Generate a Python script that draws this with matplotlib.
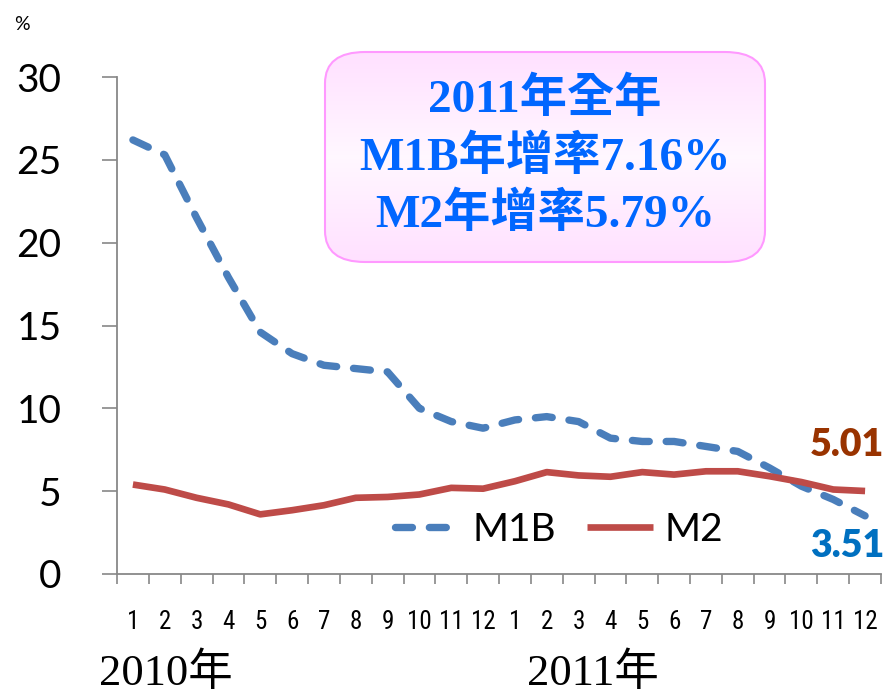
import matplotlib
matplotlib.use("Agg")
import matplotlib.pyplot as plt
import numpy as np
from matplotlib.patches import FancyBboxPatch
from matplotlib import font_manager

months = [str(m) for m in range(1, 13)] * 2
years = ["2010年", "2011年"]
m1b = [26.2, 25.3, 21.5, 17.9, 14.6, 13.3, 12.6, 12.4, 12.2, 10.0, 9.2, 8.8,
       9.3, 9.5, 9.2, 8.2, 8.0, 8.0, 7.7, 7.4, 6.4, 5.3, 4.5, 3.51]
m2 = [5.4, 5.1, 4.6, 4.2, 3.6, 3.85, 4.15, 4.6, 4.65, 4.8, 5.2, 5.15,
      5.6, 6.15, 5.95, 5.87, 6.15, 6.0, 6.2, 6.2, 5.9, 5.55, 5.1, 5.01]
yticks = [0, 5, 10, 15, 20, 25, 30]
box_lines = ["2011年全年", "M1B年增率7.16%", "M2年增率5.79%"]

def pick_font(cands, default):
    for c in cands:
        try:
            p = font_manager.findfont(
                font_manager.FontProperties(family=c, weight="normal"),
                fallback_to_default=False)
            if "bold" not in p.lower():
                return c
        except Exception:
            pass
    return default

narrow = pick_font(["Liberation Sans Narrow", "Roboto Condensed"], "Lato")
xfs = 18 if narrow != "Lato" else 16.5

W, H = 889, 693
fig = plt.figure(figsize=(W / 100, H / 100), dpi=100)
ax = fig.add_axes([117 / W, 1 - 574 / H, (881 - 117) / W, (574 - 77) / H])

x = np.arange(len(m1b))
ax.plot(x, m1b, color="#4A7EBB", lw=5.3, linestyle=(0, (2.3, 2.3)),
        dash_capstyle="round", solid_joinstyle="round", label="M1B")
ax.plot(x, m2, color="#BE4B48", lw=4.8, solid_capstyle="butt",
        solid_joinstyle="round", label="M2")

ax.set_xlim(-0.5, len(m1b) - 0.5)
ax.set_ylim(0, 30)
ax.set_yticks(yticks)
ax.set_yticklabels([str(v) for v in yticks], fontsize=28, family="Lato")
ax.tick_params(axis="y", length=11, width=1.2, color="#888888", pad=29)

ax.set_xticks(x)
ax.set_xticklabels(months, fontsize=xfs, family=narrow, fontweight="normal")
ax.set_xticks(np.arange(-0.5, len(m1b)), minor=True)
ax.tick_params(axis="x", which="major", length=0, pad=26)
ax.tick_params(axis="x", which="minor", length=7, width=1.2, color="#888888")

for s in ["top", "right"]:
    ax.spines[s].set_visible(False)
for s in ["left", "bottom"]:
    ax.spines[s].set_color("#888888")
    ax.spines[s].set_linewidth(1.3)

leg = ax.legend(loc="center", bbox_to_anchor=(559 / W, 1 - 530 / H),
                bbox_transform=fig.transFigure, ncol=2, frameon=False,
                prop={"family": "Lato", "size": 28}, handlelength=1.7,
                columnspacing=0.8, handletextpad=0.3)

# end labels
ax.annotate("5.01", xy=(x[-1], m2[-1]), xytext=(847 / W, 1 - 445 / H),
            textcoords="figure fraction", ha="center", va="center",
            fontsize=27, fontweight="heavy", color="#993300", family="Lato")
ax.annotate("3.51", xy=(x[-1], m1b[-1]), xytext=(847 / W, 1 - 546 / H),
            textcoords="figure fraction", ha="center", va="center",
            fontsize=27, fontweight="heavy", color="#0070C0", family="Lato")

# percent label
fig.text(22 / W, 1 - 25 / H, "%", fontsize=14, ha="center", va="center",
         family="Lato")

# year labels
for xc, lab in zip([166, 593], years):
    fig.text(xc / W, 1 - 673 / H, lab, fontsize=32, ha="center", va="center",
             family=["Liberation Serif", "Noto Sans CJK TC"])

# annotation box with gradient
bx0, by0, bx1, by1 = 325 / W, 1 - 262 / H, 765 / W, 1 - 52 / H
box = FancyBboxPatch((bx0, by0), bx1 - bx0, by1 - by0,
                     boxstyle="round,pad=0,rounding_size=0.045",
                     transform=fig.transFigure, facecolor="none",
                     edgecolor="#FF99FF", lw=1.5, zorder=5)
fig.add_artist(box)
grad_ax = fig.add_axes([bx0, by0, bx1 - bx0, by1 - by0], zorder=4)
grad_ax.axis("off")
t = np.linspace(0, 1, 200)
vals = np.abs(t - 0.5) * 2
c_edge = np.array([1.0, 0.88, 1.0])
c_mid = np.array([1.0, 0.97, 1.0])
img = c_mid[None, :] + (c_edge - c_mid)[None, :] * vals[:, None]
im = grad_ax.imshow(img[:, None, :], aspect="auto", extent=(0, 1, 0, 1),
                    transform=grad_ax.transAxes)
clip = FancyBboxPatch((bx0, by0), bx1 - bx0, by1 - by0,
                      boxstyle="round,pad=0,rounding_size=0.045",
                      transform=fig.transFigure, facecolor="none")
im.set_clip_path(clip)
grad_ax.set_xlim(0, 1)
grad_ax.set_ylim(0, 1)

for yy, line in zip([100, 158, 215], box_lines):
    fig.text(545 / W, 1 - yy / H, line, fontsize=34, fontweight="bold",
             color="#0066FF", ha="center", va="center", zorder=6,
             family=["Liberation Serif", "Noto Sans CJK TC"])

fig.savefig("out.png", dpi=100)
